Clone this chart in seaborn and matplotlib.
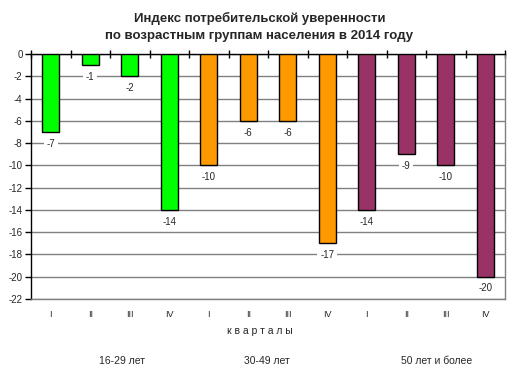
import matplotlib
matplotlib.use("Agg")
import matplotlib.pyplot as plt
import seaborn as sns
import pandas as pd
import numpy as np

quarters = ["I", "II", "III", "IV"] * 3
groups = ["16-29 лет"] * 4 + ["30-49 лет"] * 4 + ["50 лет и более"] * 4
values = [-7, -1, -2, -14, -10, -6, -6, -17, -14, -9, -10, -20]
group_names = ["16-29 лет", "30-49 лет", "50 лет и более"]
group_colors = ["#00FF00", "#FF9900", "#993366"]
title = "Индекс потребительской уверенности\nпо возрастным группам населения в 2014 году"
xlabel = "к в а р т а л ы"

sns.set_style("white")
plt.rcParams["font.family"] = ["Liberation Sans", "DejaVu Sans"]

df = pd.DataFrame({
    "slot": [f"{g}-{q}" for g, q in zip(groups, quarters)],
    "quarter": quarters,
    "group": groups,
    "value": values,
})

fig = plt.figure(figsize=(5.19, 3.74), dpi=100)
ax = fig.add_axes([31/519, 1-299/374, (505-31)/519, (299-54)/374])

sns.barplot(data=df, x="slot", y="value", hue="group", hue_order=group_names,
            palette=group_colors, dodge=False, width=0.44, edgecolor="black",
            linewidth=1.0, legend=False, ax=ax, zorder=3, saturation=1)

ax.set_ylim(-22, 0)
ax.set_xlim(-0.5, 11.5)
ax.set_yticks(np.arange(-22, 1, 2))
ax.set_yticklabels([str(v) for v in range(-22, 1, 2)], fontsize=7)
ax.yaxis.grid(True, color="#808080", linewidth=1.0, zorder=0)
ax.set_axisbelow(True)

ax.set_xticks(range(12))
ax.set_xticklabels(quarters, fontsize=6.5)
ax.set_xticks(np.arange(-0.5, 12, 1), minor=True)
ax.tick_params(axis="x", which="major", length=0, pad=8, bottom=True, top=False)
ax.tick_params(axis="x", which="minor", top=True, bottom=False, direction="inout",
               length=6, width=1, color="black")
ax.tick_params(axis="y", which="major", left=True, direction="out", length=4,
               width=1, color="black", pad=2)
ax.set_xlabel("")
ax.set_ylabel("")

for s in ["left", "top"]:
    ax.spines[s].set_color("black")
    ax.spines[s].set_linewidth(1.0)
for s in ["right", "bottom"]:
    ax.spines[s].set_color("#808080")
    ax.spines[s].set_linewidth(1.0)

for i, v in enumerate(values):
    ax.text(i, v - 1.05, str(v), ha="center", va="center", fontsize=7,
            zorder=4, bbox=dict(facecolor="white", edgecolor="none", pad=2))

fig.text(0.5, 1 - 27/374, title, ha="center", va="center", fontsize=9.5,
         fontweight="bold", linespacing=1.45)
fig.text(260/519, 1 - 331/374, xlabel, ha="center", va="center", fontsize=7.5)
for name, cx in zip(group_names, [122, 267, 437]):
    fig.text(cx/519, 1 - 361/374, name, ha="center", va="center", fontsize=7.5)

fig.savefig("out.png", dpi=100)
